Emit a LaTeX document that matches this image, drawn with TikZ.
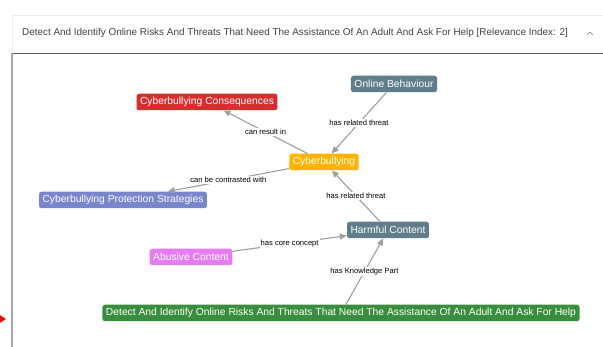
\documentclass[tikz,border=0pt]{standalone}
\usepackage{fontspec}
\setmainfont{Liberation Sans}
\usetikzlibrary{arrows.meta}

\definecolor{slate}{HTML}{607D8B}
\definecolor{conseq}{HTML}{D32F2F}
\definecolor{amber}{HTML}{FFB300}
\definecolor{protect}{HTML}{7986CB}
\definecolor{abusive}{HTML}{E57CF2}
\definecolor{skill}{HTML}{388E3C}
\definecolor{edgegray}{HTML}{9E9E9E}
\definecolor{headtext}{HTML}{424242}

\begin{document}
\begin{tikzpicture}[x=1pt, y=-1pt, > = {Triangle[length=7pt, width=6pt]},
  concept/.style={rounded corners=2.5pt, text=white, font=\fontsize{10.3}{11}\selectfont, inner xsep=3.5pt, inner ysep=2pt, minimum height=16.5pt},
  rel/.style={->, draw=edgegray, line width=1.1pt},
  lbl/.style={fill=white, inner sep=1pt, font=\fontsize{7.6}{8}\selectfont, text=black}]
\useasboundingbox (0,0) rectangle (603,347);

% panel and header
\draw[black!8, fill=white] (12,15) rectangle (610,350);
\node (header) [anchor=west, text=headtext, font=\fontsize{9.9}{11}\selectfont, inner sep=0pt] at (22,33) {Detect And Identify Online Risks And Threats That Need The Assistance Of An Adult And Ask For Help [Relevance Index: 2]};
\draw[headtext!70, line width=0.6pt] (587,35) -- (590,32) -- (593,35);
\draw[black!65, line width=0.8pt] (12,53) -- (603,53);
\draw[black!35, line width=1.5pt] (12,53) -- (12,347);
\fill[red] (-2,314) -- (6,319) -- (-2,324) -- cycle;

% concepts
\node (behaviour) [concept, fill=slate] at (394,84) {Online Behaviour};
\node (conseq) [concept, fill=conseq] at (207,102) {Cyberbullying Consequences};
\node (cyber) [concept, fill=amber] at (324,162) {Cyberbullying};
\node (protect) [concept, fill=protect] at (123,200) {Cyberbullying Protection Strategies};
\node (harmful) [concept, fill=slate] at (388,230) {Harmful Content};
\node (abusive) [concept, fill=abusive] at (191,257) {Abusive Content};
\node (skill) [concept, fill=skill] at (341,313) {Detect And Identify Online Risks And Threats That Need The Assistance Of An Adult And Ask For Help};

% relations
\draw[rel] (behaviour) -- node[lbl] {has related threat} (cyber);
\draw[rel] (cyber) -- node[lbl] {can result in} (conseq);
\draw[rel] (cyber) -- node[lbl] {can be contrasted with} (protect);
\draw[rel] (harmful) -- node[lbl] {has related threat} (cyber);
\draw[rel] (abusive) -- node[lbl] {has core concept} (harmful);
\draw[rel] (skill) -- node[lbl] {has Knowledge Part} (harmful);
\end{tikzpicture}
\end{document}
